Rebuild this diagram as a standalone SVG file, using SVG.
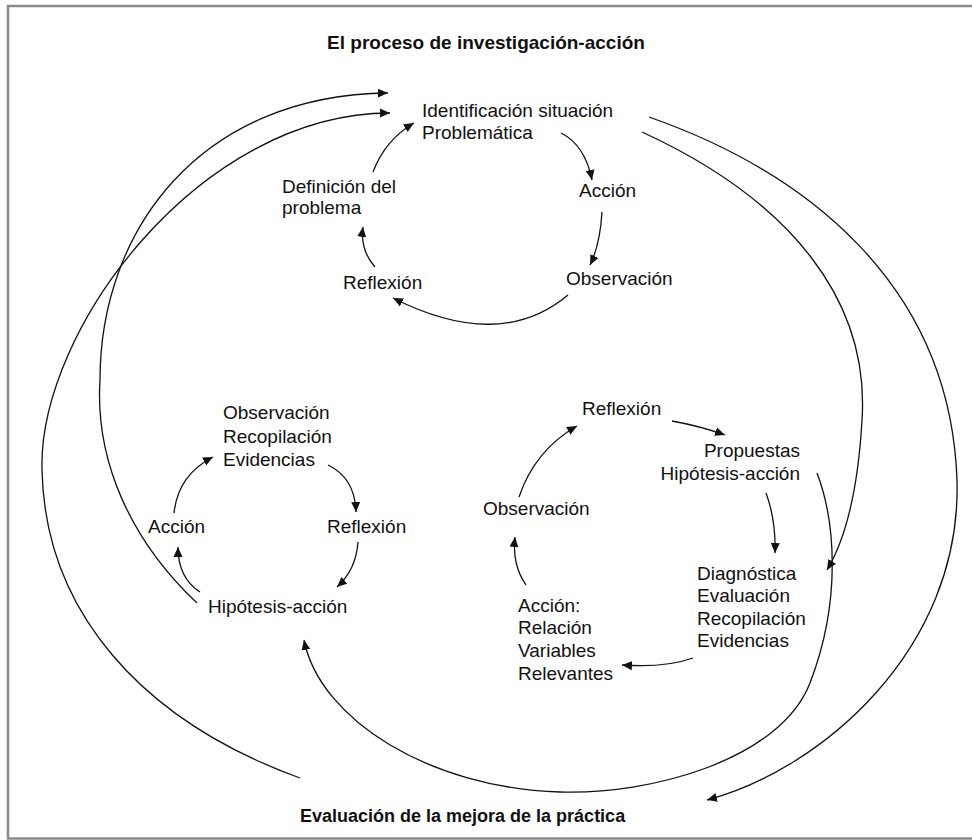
<svg xmlns="http://www.w3.org/2000/svg" width="972" height="840" viewBox="0 0 972 840">
<style>
text{font-family:"Liberation Sans",Arial,sans-serif;font-size:19px;fill:#111}
.b{font-weight:bold}
.e{text-anchor:end}
.c{fill:none;stroke:#111;stroke-width:1.3}
</style>
<defs>
<marker id="ah" markerUnits="userSpaceOnUse" markerWidth="11" markerHeight="10" refX="10" refY="5" orient="auto">
<path d="M0,0.5 L10,5 L0,9.5 z" fill="#111"/>
</marker>
</defs>
<rect width="972" height="840" fill="#fff"/>
<path d="M972,6 H8 V838.5 H972" fill="none" stroke="#8a8a8a" stroke-width="2.5"/>
<g id="title"><text class="b" x="486" y="49" text-anchor="middle">El proceso de investigación-acción</text></g>
<g id="evaluacion"><text class="b" x="300" y="822" style="font-size:18px">Evaluación de la mejora de la práctica</text></g>
<g id="identificacion"><text x="422" y="117">Identificación situación</text><text x="422" y="139">Problemática</text></g>
<g id="accion1"><text x="579" y="197">Acción</text></g>
<g id="observacion1"><text x="566" y="285">Observación</text></g>
<g id="reflexion1"><text x="343" y="289">Reflexión</text></g>
<g id="definicion"><text x="282" y="193">Definición del</text><text x="282" y="214">problema</text></g>
<g id="observacion2"><text x="223" y="419">Observación</text><text x="223" y="443">Recopilación</text><text x="223" y="466">Evidencias</text></g>
<g id="accion2"><text x="148" y="533">Acción</text></g>
<g id="reflexion2"><text x="327" y="533">Reflexión</text></g>
<g id="hipotesis2"><text x="208" y="613">Hipótesis-acción</text></g>
<g id="reflexion3"><text x="582" y="415">Reflexión</text></g>
<g id="propuestas"><text class="e" x="800" y="457">Propuestas</text><text class="e" x="800" y="480">Hipótesis-acción</text></g>
<g id="observacion3"><text x="483" y="515">Observación</text></g>
<g id="diagnostica"><text x="697" y="580">Diagnóstica</text><text x="697" y="602">Evaluación</text><text x="697" y="625">Recopilación</text><text x="697" y="647">Evidencias</text></g>
<g id="accion3"><text x="518" y="612">Acción:</text><text x="518" y="634">Relación</text><text x="518" y="657">Variables</text><text x="518" y="680">Relevantes</text></g>
<g id="connectors">
<path class="c" marker-end="url(#ah)" d="M373,172 Q385,140 414,123"/>
<path class="c" marker-end="url(#ah)" d="M561,133 Q585,145 592,180"/>
<path class="c" marker-end="url(#ah)" d="M602,212 Q600,245 590,265"/>
<path class="c" marker-end="url(#ah)" d="M568,295 Q500,352 393,298"/>
<path class="c" marker-end="url(#ah)" d="M375,267 Q360,250 363,227"/>
<path class="c" marker-end="url(#ah)" d="M174,513 Q178,475 213,457"/>
<path class="c" marker-end="url(#ah)" d="M328,465 Q355,478 356,512"/>
<path class="c" marker-end="url(#ah)" d="M358,542 Q356,570 337,587"/>
<path class="c" marker-end="url(#ah)" d="M200,592 Q178,578 178,547"/>
<path class="c" marker-end="url(#ah)" d="M672,421 Q700,426 725,435"/>
<path class="c" marker-end="url(#ah)" d="M766,493 Q776,520 775,553"/>
<path class="c" marker-end="url(#ah)" d="M693,658 Q665,668 622,665"/>
<path class="c" marker-end="url(#ah)" d="M526,585 Q512,565 515,537"/>
<path class="c" marker-end="url(#ah)" d="M519,497 Q535,450 577,426"/>
<path class="c" marker-end="url(#ah)" d="M300,778 C140,720 45,610 42,470 C38,330 200,113 390,113"/>
<path class="c" marker-end="url(#ah)" d="M197,603 C130,540 95,460 100,380 C100,230 200,95 388,93"/>
<path class="c" marker-end="url(#ah)" d="M649,117 C800,170 950,280 957,480 C962,650 820,770 707,800"/>
<path class="c" marker-end="url(#ah)" d="M642,132 C790,200 870,300 862,420 C858,490 845,540 827,570"/>
<path class="c" marker-end="url(#ah)" d="M817,473 C835,520 842,600 810,683 C780,760 650,795 560,792 C430,788 320,720 304,640"/>
</g>
</svg>
